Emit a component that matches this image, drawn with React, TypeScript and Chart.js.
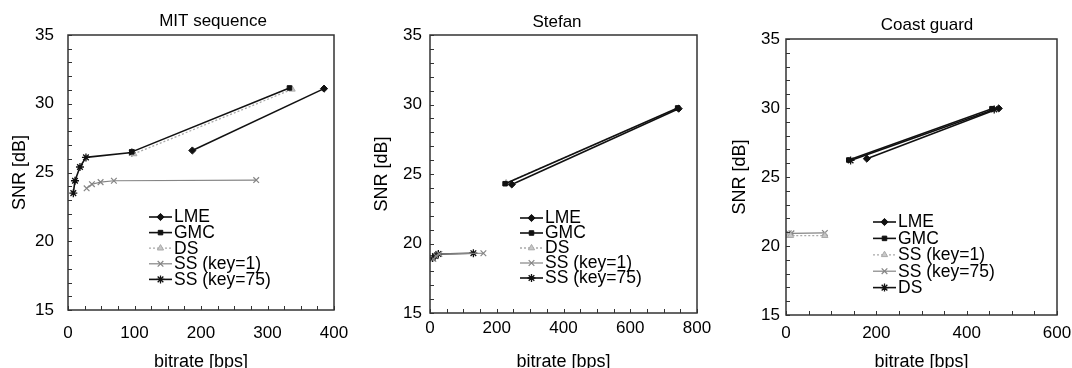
import React, { useEffect, useRef } from 'react';
import { Chart, registerables } from 'chart.js';
import { drawPoint } from 'chart.js/helpers';

Chart.register(...registerables);

const FONT = "'Liberation Sans', Arial, Helvetica, sans-serif";

// ---------- MIT sequence ----------
const mitLmeX = [187, 385];
const mitLmeY = [26.6, 31.1];
const mitGmcX = [96, 333];
const mitGmcY = [26.5, 31.15];
const mitDsX = [99, 337];
const mitDsY = [26.35, 31.05];
const mitSs1X = [28, 36, 49, 69, 283];
const mitSs1Y = [23.85, 24.15, 24.3, 24.4, 24.45];
const mitSs75X = [8, 10.5, 18, 27, 96];
const mitSs75Y = [23.5, 24.4, 25.4, 26.1, 26.45];

// ---------- Stefan ----------
const stfLmeX = [245, 745];
const stfLmeY = [24.25, 29.7];
const stfGmcX = [225, 742];
const stfGmcY = [24.3, 29.75];
const stfDsX = [228, 740];
const stfDsY = [24.35, 29.7];
const stfSs1X = [10, 18, 28, 160];
const stfSs1Y = [18.9, 19.1, 19.25, 19.3];
const stfSs75X = [8, 15, 25, 130];
const stfSs75Y = [18.95, 19.1, 19.25, 19.3];

// ---------- Coast guard ----------
const cgLmeX = [179, 471];
const cgLmeY = [26.33, 29.97];
const cgGmcX = [139, 456];
const cgGmcY = [26.23, 29.95];
const cgSs1X = [5, 10, 86];
const cgSs1Y = [20.75, 20.75, 20.75];
const cgSs75X = [6, 12, 86];
const cgSs75Y = [20.92, 20.92, 20.95];
const cgDsX = [143, 461];
const cgDsY = [26.2, 29.9];

// axis settings
const yMin = 15;
const yMax = 35;
const yStep = 5;
const mitXMax = 400;
const stfXMax = 800;
const cgXMax = 600;

const pts = (xs: number[], ys: number[]) => xs.map((x, i) => ({ x, y: ys[i] }));

const BLACK = '#111111';
const GRAY = '#858585';
const LIGHT = '#a9a9a9';

const sLME = { borderColor: BLACK, backgroundColor: BLACK, pointStyle: 'rectRot', pointRadius: 3.6, borderWidth: 1.6, pointBorderWidth: 1 };
const sGMC = { borderColor: BLACK, backgroundColor: BLACK, pointStyle: 'rect', pointRadius: 3.2, borderWidth: 1.6, pointBorderWidth: 1 };
const sDSgray = { borderColor: LIGHT, backgroundColor: '#c8c8c8', pointStyle: 'triangle', pointRadius: 3.6, borderWidth: 1.3, borderDash: [2, 2], pointBorderWidth: 1 };
const sSS1 = { borderColor: GRAY, backgroundColor: GRAY, pointStyle: 'crossRot', pointRadius: 4, borderWidth: 1.2, pointBorderWidth: 1.2 };
const sSS75 = { borderColor: BLACK, backgroundColor: BLACK, pointStyle: 'star', pointRadius: 4, borderWidth: 1.6, pointBorderWidth: 1.3 };

const mk = (label: string, data: any[], style: any) => ({ label, data, showLine: true, ...style, pointHoverRadius: style.pointRadius });

const panels = [
  {
    key: 'mit',
    title: 'MIT sequence',
    L: 0, W: 426,
    plotLeft: 68, plotRight: 334, plotBottom: 310,
    titlePadTop: 11.1, titlePadBottom: 3.5,
    xMax: mitXMax, xStep: 100, xMinor: 25, xTickPad: 12.8, yTickPad: 14,
    legend: { dx: 81, dy: 182, row: 15.6 },
    datasets: [
      mk('LME', pts(mitLmeX, mitLmeY), sLME),
      mk('GMC', pts(mitGmcX, mitGmcY), sGMC),
      mk('DS', pts(mitDsX, mitDsY), sDSgray),
      mk('SS (key=1)', pts(mitSs1X, mitSs1Y), sSS1),
      mk('SS (key=75)', pts(mitSs75X, mitSs75Y), sSS75),
    ],
  },
  {
    key: 'stefan',
    title: 'Stefan',
    L: 362, W: 390,
    plotLeft: 430, plotRight: 697, plotBottom: 313,
    titlePadTop: 11.8, titlePadBottom: 2.8,
    xMax: stfXMax, xStep: 200, xMinor: 50, xTickPad: 4.8, yTickPad: 8,
    legend: { dx: 90, dy: 183, row: 15 },
    datasets: [
      mk('LME', pts(stfLmeX, stfLmeY), sLME),
      mk('GMC', pts(stfGmcX, stfGmcY), sGMC),
      mk('DS', pts(stfDsX, stfDsY), sDSgray),
      mk('SS (key=1)', pts(stfSs1X, stfSs1Y), sSS1),
      mk('SS (key=75)', pts(stfSs75X, stfSs75Y), sSS75),
    ],
  },
  {
    key: 'coast',
    title: 'Coast guard',
    L: 720, W: 414,
    plotLeft: 786, plotRight: 1057, plotBottom: 315,
    titlePadTop: 15.1, titlePadBottom: 3.5,
    xMax: cgXMax, xStep: 200, xMinor: 50, xTickPad: 7.8, yTickPad: 6,
    legend: { dx: 87, dy: 183, row: 16.4 },
    datasets: [
      mk('LME', pts(cgLmeX, cgLmeY), sLME),
      mk('GMC', pts(cgGmcX, cgGmcY), sGMC),
      mk('SS (key=1)', pts(cgSs1X, cgSs1Y), sDSgray),
      mk('SS (key=75)', pts(cgSs75X, cgSs75Y), sSS1),
      mk('DS', pts(cgDsX, cgDsY), sSS75),
    ],
  },
];

const decorPlugin = {
  id: 'decor',
  afterDraw(chart: any, _args: any, opts: any) {
    const { ctx, chartArea: a, scales } = chart;
    const xs = scales.x;
    const ys = scales.y;
    ctx.save();
    // inner minor ticks
    ctx.strokeStyle = '#333';
    ctx.lineWidth = 1;
    ctx.setLineDash([]);
    ctx.beginPath();
    for (let v = xs.min; v <= xs.max + 1e-9; v += opts.xMinor) {
      const p = Math.round(xs.getPixelForValue(v)) + 0.5;
      ctx.moveTo(p, a.bottom);
      ctx.lineTo(p, a.bottom - 4);
    }
    for (let v = ys.min; v <= ys.max + 1e-9; v += 1) {
      const p = Math.round(ys.getPixelForValue(v)) + 0.5;
      ctx.moveTo(a.left, p);
      ctx.lineTo(a.left + 4, p);
    }
    ctx.stroke();
    // frame
    ctx.lineWidth = 1.5;
    ctx.strokeStyle = '#333';
    ctx.strokeRect(a.left, a.top, a.right - a.left, a.bottom - a.top);

    // legend
    const lg = opts.legend;
    const x0 = a.left + lg.dx;
    chart.data.datasets.forEach((ds: any, i: number) => {
      const y = a.top + lg.dy + i * lg.row;
      ctx.save();
      ctx.strokeStyle = ds.borderColor;
      ctx.lineWidth = ds.borderWidth;
      ctx.setLineDash(ds.borderDash || []);
      ctx.beginPath();
      ctx.moveTo(x0, y);
      ctx.lineTo(x0 + 23, y);
      ctx.stroke();
      ctx.setLineDash([]);
      ctx.fillStyle = ds.backgroundColor;
      ctx.lineWidth = ds.pointBorderWidth;
      drawPoint(ctx, { pointStyle: ds.pointStyle, radius: ds.pointRadius, rotation: 0, borderWidth: ds.pointBorderWidth }, x0 + 11.5, y);
      ctx.restore();
      ctx.fillStyle = '#000';
      ctx.font = `17.5px ${FONT}`;
      ctx.textBaseline = 'middle';
      ctx.textAlign = 'left';
      ctx.fillText(ds.label, x0 + 25, y + 0.5);
    });
    ctx.restore();
  },
};

function Panel({ p }: { p: any }) {
  const ref = useRef<HTMLCanvasElement>(null);
  useEffect(() => {
    const H = 368;
    const chart = new Chart(ref.current as HTMLCanvasElement, {
      type: 'scatter',
      data: { datasets: p.datasets },
      plugins: [decorPlugin],
      options: {
        responsive: false,
        animation: false,
        devicePixelRatio: 1,
        layout: { padding: 0 },
        events: [],
        plugins: {
          legend: { display: false },
          tooltip: { enabled: false },
          title: {
            display: true,
            text: p.title,
            color: '#000',
            font: { family: FONT, size: 17, weight: 'normal', lineHeight: 1.2 },
            padding: { top: p.titlePadTop, bottom: p.titlePadBottom },
          },
          decor: { xMinor: p.xMinor, legend: p.legend },
        },
        scales: {
          x: {
            type: 'linear',
            position: 'bottom',
            min: 0,
            max: p.xMax,
            ticks: { stepSize: p.xStep, color: '#000', font: { family: FONT, size: 17, lineHeight: 1.2 }, padding: p.xTickPad, maxRotation: 0, autoSkip: false },
            grid: { display: false, drawTicks: false },
            border: { display: false },
            title: { display: true, text: 'bitrate [bps]', color: '#000', font: { family: FONT, size: 18, lineHeight: 0.7 }, padding: { top: 0, bottom: 0 } },
            afterFit: (s: any) => { s.height = H - p.plotBottom; },
          },
          y: {
            type: 'linear',
            position: 'left',
            min: yMin,
            max: yMax,
            ticks: { stepSize: yStep, color: '#000', font: { family: FONT, size: 17, lineHeight: 1.2 }, padding: p.yTickPad },
            grid: { display: false, drawTicks: false },
            border: { display: false },
            title: { display: true, text: 'SNR [dB]', color: '#000', font: { family: FONT, size: 18, lineHeight: 1 }, padding: { top: 11.5, bottom: 0 } },
            afterFit: (s: any) => { s.width = p.plotLeft - p.L; },
          },
          yR: {
            type: 'linear',
            position: 'right',
            display: true,
            ticks: { display: false },
            grid: { display: false, drawTicks: false },
            border: { display: false },
            afterFit: (s: any) => { s.width = p.L + p.W - p.plotRight; },
          },
        },
      } as any,
    });
    return () => chart.destroy();
  }, [p]);
  return (
    <canvas
      ref={ref}
      width={p.W}
      height={368}
      style={{ position: 'absolute', left: p.L, top: 0, width: p.W, height: 368 }}
    />
  );
}

export default function App() {
  return (
    <div style={{ position: 'absolute', left: 0, top: 0, width: 1072, height: 368, overflow: 'hidden', background: '#fff' }}>
      {panels.map((p) => (
        <Panel key={p.key} p={p} />
      ))}
    </div>
  );
}
